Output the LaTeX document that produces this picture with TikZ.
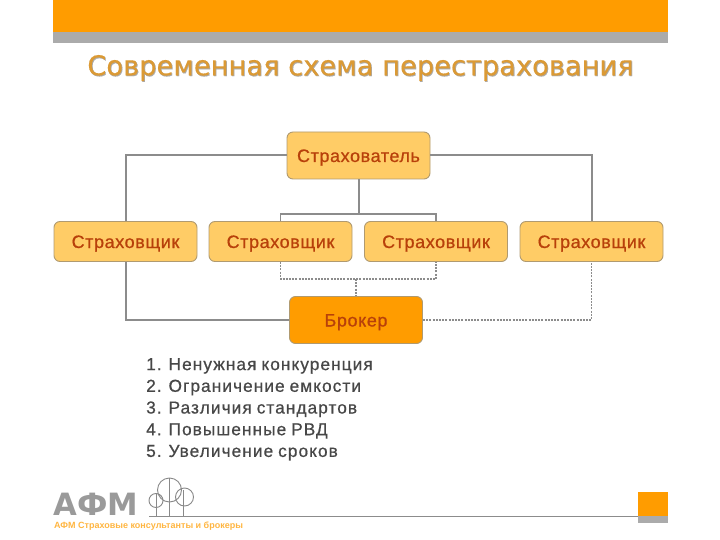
\documentclass[tikz,border=0pt]{standalone}
\usepackage{fontspec}
\setmainfont{Liberation Sans}
\newfontfamily\titlefont{DejaVu Sans}[FakeBold=0.3]
\newfontfamily\logofont{DejaVu Sans Bold}
\newfontfamily\boxfont{Liberation Sans}[FakeBold=0.7,LetterSpace=3.3]
\newfontfamily\listfont{Liberation Sans}[FakeBold=0.7,LetterSpace=6,WordSpace=0.85]
\usetikzlibrary{calc}
\definecolor{orangeA}{HTML}{FF9C00}
\definecolor{boxfill}{HTML}{FFCC66}
\definecolor{boxline}{HTML}{B09A70}
\definecolor{barGray}{HTML}{ABABAB}
\definecolor{lineGray}{HTML}{8C8C8C}
\definecolor{textRed}{HTML}{B8400A}
\definecolor{titleCol}{HTML}{DB9A35}
\tikzset{
 bx/.style={draw=boxline,line width=0.9pt,fill=boxfill,rounded corners=6pt,text=textRed,font=\boxfont\fontsize{18}{18}\selectfont,inner sep=0pt,anchor=center,text height=13pt,text depth=0pt},
 conn/.style={draw=lineGray,line width=2pt},
 dotc/.style={draw=lineGray,line width=1.8pt,dash pattern=on 2pt off 1.2pt},
}
\begin{document}
\begin{tikzpicture}[x=1pt,y=-1pt]
\useasboundingbox (0,0) rectangle (720,540);
\fill[orangeA] (53,0) rectangle (668,32);
\fill[barGray] (53,32) rectangle (668,43);
\node[text=barGray,font=\titlefont\fontsize{27.3}{28}\selectfont,inner sep=0pt] at (361.3,68.9) {Современная схема перестрахования};
\node[text=titleCol,font=\titlefont\fontsize{27.3}{28}\selectfont,inner sep=0pt] (title) at (360.5,68) {Современная схема перестрахования};
\node[bx,minimum width=143pt,minimum height=47pt] (s) at (358.5,155.5) {Страхователь};
\node[bx,minimum width=143pt,minimum height=40pt] (a) at (125.5,241.5) {Страховщик};
\node[bx,minimum width=143pt,minimum height=40pt] (b) at (280.5,241.5) {Страховщик};
\node[bx,minimum width=143pt,minimum height=40pt] (c) at (436,241.5) {Страховщик};
\node[bx,minimum width=143pt,minimum height=40pt] (d) at (591.5,241.5) {Страховщик};
\node[bx,fill=orangeA,minimum width=133pt,minimum height=47pt] (k) at (356,320) {Брокер};
\coordinate (tj) at (s.south |- 0,214);
\coordinate (dj) at (k.north |- 0,279);
\draw[conn] (s.west) -| (a.north);
\draw[conn] (s.east) -| (d.north);
\draw[conn] (s.south) -- (tj);
\draw[conn,line width=1.5pt] (b.north) |- (tj) -| (c.north);
\draw[dotc] (b.south) |- (dj) -| (c.south);
\draw[dotc] (dj) -- (k.north);
\draw[conn] (k.west) -| (a.south);
\draw[dotc] (k.east) -| (d.south);
% list
\node[anchor=north west,align=left,text=black!72,font=\listfont\fontsize{17.3}{21.7}\selectfont,inner sep=0pt] (list) at (146,358) {1. Ненужная конкуренция\\2. Ограничение емкости\\3. Различия стандартов\\4. Повышенные РВД\\5. Увеличение сроков};
% footer
\draw[lineGray,line width=0.8pt] (149,516.5) -- (639,516.5);
\fill[orangeA] (638,492) rectangle (668,516);
\fill[barGray] (638,516) rectangle (668,523);
\node[anchor=base west,text=barGray!90!black,font=\logofont\fontsize{30.7}{31}\selectfont,inner sep=0pt] (logo) at (53.5,515) {АФМ};
\node[anchor=west,text=orangeA!75!white,font=\bfseries\fontsize{9}{10}\selectfont,inner sep=0pt] (sub) at (54,526) {АФМ Страховые консультанты и брокеры};
\draw[barGray!80!black,line width=0.9pt] (156,500.5) circle (7) (169.5,490) circle (12) (184.5,497) circle (9);
\draw[barGray!80!black,line width=0.9pt] (156,493) -- (156,516) (169.5,478) -- (169.5,516) (183,490) -- (183,516);
\end{tikzpicture}
\end{document}
